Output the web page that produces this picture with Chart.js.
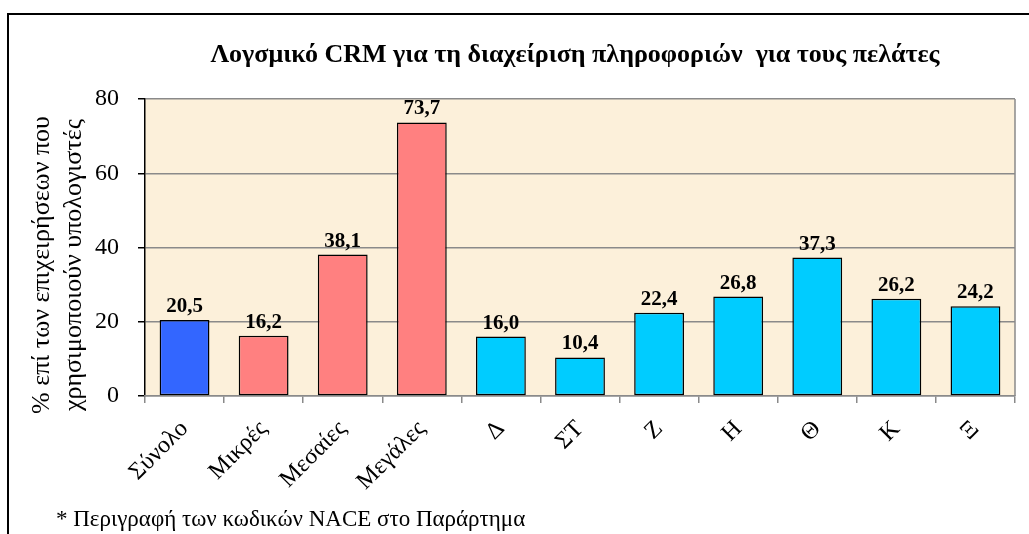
<!DOCTYPE html>
<html>
<head>
<meta charset="utf-8">
<script src="https://cdn.jsdelivr.net/npm/chart.js@4"></script>
<style>
  html, body { margin: 0; padding: 0; background: #fff; }
  #wrap { width: 1029px; height: 534px; }
</style>
</head>
<body>
<div id="wrap"><canvas id="chart" width="1029" height="534"></canvas></div>
<script>
// Δεδομένα
const categories = ["Σύνολο", "Μικρές", "Μεσαίες", "Μεγάλες", "Δ", "ΣΤ", "Ζ", "Η", "Θ", "Κ", "Ξ"];
const values = [20.5, 16.2, 38.1, 73.7, 16.0, 10.4, 22.4, 26.8, 37.3, 26.2, 24.2];
const groups = ["total", "size", "size", "size", "nace", "nace", "nace", "nace", "nace", "nace", "nace"];
const yTicks = [0, 20, 40, 60, 80];

const chartTitle = "Λογσμικό CRM για τη διαχείριση πληροφοριών  για τους πελάτες";
const yTitle = ["% επί των επιχειρήσεων που", "χρησιμοποιούν υπολογιστές"];
const footnote = "* Περιγραφή των κωδικών NACE στο Παράρτημα";

const groupColors = { total: "#3366ff", size: "#ff8080", nace: "#00ccff" };
const serif = "'Liberation Serif', 'Times New Roman', serif";

// Plugin: fundo, moldura, títulos, rótulos
const decor = {
  id: "decor",
  beforeDraw(chart) {
    const { ctx, chartArea: a } = chart;
    ctx.save();
    ctx.fillStyle = "#ffffff";
    ctx.fillRect(0, 0, chart.width, chart.height);
    ctx.fillStyle = "#fcf0da";
    ctx.fillRect(a.left, a.top, a.right - a.left, a.bottom - a.top);
    ctx.restore();
  },
  afterDraw(chart) {
    const { ctx, chartArea: a } = chart;
    ctx.save();
    // borda direita da área
    ctx.strokeStyle = "#8a8a8a";
    ctx.lineWidth = 1.5;
    ctx.beginPath();
    ctx.moveTo(a.right, a.top);
    ctx.lineTo(a.right, a.bottom);
    ctx.stroke();

    // moldura externa
    ctx.strokeStyle = "#000";
    ctx.lineWidth = 2;
    ctx.beginPath();
    ctx.moveTo(8, chart.height + 2);
    ctx.lineTo(8, 14);
    ctx.lineTo(chart.width + 2, 14);
    ctx.stroke();

    // título
    ctx.fillStyle = "#000";
    ctx.font = "bold 26px " + serif;
    ctx.textAlign = "center";
    ctx.textBaseline = "alphabetic";
    ctx.fillText(chartTitle, 575, 62);

    // título do eixo y
    ctx.font = "26px " + serif;
    ctx.save();
    ctx.translate(0, 265);
    ctx.rotate(-Math.PI / 2);
    ctx.textBaseline = "middle";
    ctx.fillText(yTitle[0], 0, 42);
    ctx.fillText(yTitle[1], 0, 74);
    ctx.restore();

    // nota de rodapé
    ctx.textAlign = "left";
    ctx.font = "23px " + serif;
    ctx.fillText(footnote, 56, 526);

    // rótulos de valores
    const meta = chart.getDatasetMeta(0);
    ctx.textAlign = "center";
    ctx.font = "bold 21px " + serif;
    meta.data.forEach((bar, i) => {
      ctx.fillText(values[i].toFixed(1).replace(".", ","), bar.x, bar.y - 8);
    });
    ctx.restore();
  },
};

const ctx = document.getElementById("chart").getContext("2d");
const chart = new Chart(ctx, {
  type: "bar",
  data: {
    labels: categories,
    datasets: [
      {
        data: values,
        backgroundColor: groups.map((g) => groupColors[g]),
        borderColor: "#000",
        borderWidth: 1.5,
        borderSkipped: false,
        categoryPercentage: 1,
        barPercentage: 0.63,
      },
    ],
  },
  options: {
    responsive: false,
    animation: false,
    layout: { padding: { left: 0, top: 99, right: 14, bottom: 0 } },
    plugins: {
      legend: { display: false },
      tooltip: { enabled: false },
      title: { display: false },
    },
    scales: {
      y: {
        min: 0,
        max: 80,
        afterFit(scale) { scale.width = 145; },
        afterBuildTicks(scale) { scale.ticks = yTicks.map((v) => ({ value: v })); },
        ticks: {
          color: "#000",
          font: { family: serif, size: 24 },
          padding: 19,
        },
        grid: {
          color: "#8a8a8a",
          lineWidth: 1.5,
          tickColor: "#000",
          tickLength: 7,
        },
        border: { color: "#000", width: 1.5 },
      },
      x: {
        afterFit(scale) { scale.height = 138; },
        ticks: {
          color: "#000",
          font: { family: serif, size: 24 },
          minRotation: 45,
          maxRotation: 45,
          autoSkip: false,
          padding: 12,
        },
        grid: {
          offset: true,
          drawOnChartArea: false,
          color: "#8a8a8a",
          tickLength: 7,
          lineWidth: 1.5,
        },
        border: { color: "#8a8a8a", width: 1.5 },
      },
    },
  },
  plugins: [decor],
});
</script>
</body>
</html>
